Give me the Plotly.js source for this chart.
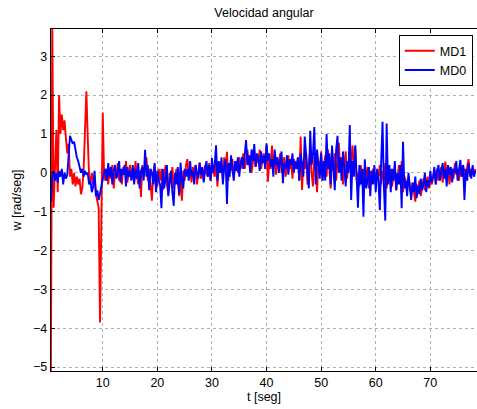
<!DOCTYPE html>
<html>
<head>
<meta charset="utf-8">
<script src="https://cdn.plot.ly/plotly-3.0.1.min.js"></script>
<style>html,body{margin:0;padding:0;background:#fff;}#chart{width:477px;height:409px;}</style>
</head>
<body>
<div id="chart"></div>
<script>
// Sampling of both series (seconds)
const tStart = 0.5;
const tStep = 0.25;

// MD1 (red) angular velocity, rad/seg
const md1 = [
  -5.1, 3.9, -0.9, 0.2, 1.1, -0.5, 2.0, 1.0, 1.5, 1.1, 1.35, 0.9, 0.5, 0.75, -0.1, 0.1, -0.3, 0.0, -0.35, -0.1,
  -0.3, -0.15, -0.55, -0.4, 0.1, 1.1, 2.1, 0.9, -0.1, -0.2, 0.0, -0.3, -0.1, -0.55, -0.7, -0.9, -3.85, -0.4, 1.55, -0.1,
  -0.2, 0.1, -0.3, 0.05, -0.15, 0.2, -0.4, 0.0, -0.1, 0.25, -0.2, 0.1, -0.3, 0.15, -0.05, 0.3, -0.25, 0.0, 0.2, -0.15,
  0.1, -0.2, 0.3, -0.1, -0.3, 0.05, -0.62, 0.2, -0.1, 0.15, 0.4, -0.2, 0.1, -0.3, -0.72, 0.0, 0.2, -0.15, -0.35, 0.1,
  -0.2, 0.1, -0.45, -0.1, 0.2, -0.3, -0.55, 0.0, -0.2, 0.15, -0.4, -0.1, 0.1, -0.25, -0.6, -0.05, -0.72, 0.05, -0.2, 0.2,
  0.35, -0.1, 0.1, -0.25, 0.15, -0.05, 0.2, -0.3, 0.05, 0.27, -0.15, 0.1, -0.2, 0.2, 0.0, -0.1, 0.25, -0.2, 0.1, 0.05,
  -0.1, 0.3, -0.35, 0.15, 0.0, 0.2, -0.15, 0.4, 0.1, 0.54, -0.2, 0.25, 0.05, 0.35, -0.1, 0.2, 0.3, 0.0, 0.4, 0.1,
  0.25, 0.5, 0.1, 0.35, 0.6, 0.2, 0.45, 0.0, 0.3, 0.55, 0.15, 0.4, 0.25, 0.6, 0.1, 0.35, 0.5, 0.2, 0.71, -0.23,
  0.3, 0.1, 0.7, 0.2, 0.45, -0.05, 0.35, 0.15, 0.5, 0.0, 0.3, 0.4, -0.1, 0.25, 0.45, 0.1, 0.3, -0.15, 0.35, 0.2,
  0.1, 0.4, -0.2, 0.93, -0.44, 0.3, 0.1, 0.5, -0.3, 0.25, 0.6, 0.0, -0.35, 0.4, 0.15, -0.5, 0.3, 0.05, 0.55, -0.2,
  0.2, 0.45, -0.1, 0.6, 0.1, -0.4, 0.35, 0.05, 0.5, -0.2, 0.3, 0.77, 0.0, 0.4, -0.3, 0.15, 0.55, -0.15, 0.2, 0.1,
  0.3, 0.7, 0.1, 0.65, -0.2, 0.0, -0.35, 0.2, -0.1, 0.1, -0.3, -0.05, 0.15, -0.4, 0.05, -0.2, 0.1, -0.1, -0.3, 0.0,
  -0.1, 0.2, -0.3, 0.05, -0.2, 0.25, -0.4, 0.0, -0.15, 0.1, -0.35, -0.05, 0.15, -0.45, -0.1, 0.2, -0.3, 0.3, -0.5, -0.1,
  -0.2, -0.5, -0.1, -0.4, -0.6, -0.25, -0.45, -0.74, -0.3, -0.5, -0.2, -0.6, -0.35, -0.15, -0.45, -0.3, -0.1, -0.4, -0.2, -0.3,
  -0.15, 0.05, -0.3, 0.1, -0.2, -0.05, 0.15, -0.25, 0.0, 0.29, -0.1, 0.2, -0.3, 0.05, 0.1, -0.15, 0.25, -0.05, 0.1, -0.2,
  0.1, -0.1, 0.2, 0.0, -0.15, 0.15, 0.35, -0.1, 0.1, 0.0, -0.05, 0.1
];

// MD0 (blue) angular velocity, rad/seg
const md0 = [
  -0.75, -0.1, 0.05, -0.2, 0.0, -0.25, 0.05, -0.1, 0.1, -0.3, 0.0, -0.15, -0.05, 0.55, 0.95, 0.85, 0.75, 0.8, 0.55, 0.4,
  0.3, 0.15, 0.0, 0.1, -0.1, 0.05, -0.05, 0.0, -0.3, -0.2, -0.5, -0.35, 0.05, -0.6, -0.45, -0.7, -0.5, -0.3, -0.2, 0.0,
  0.1, -0.2, 0.25, -0.1, 0.15, -0.3, 0.05, 0.2, -0.15, 0.0, 0.3, -0.25, 0.1, -0.05, 0.2, -0.35, 0.15, -0.1, 0.05, -0.2,
  0.2, -0.3, 0.1, -0.15, 0.25, -0.4, 0.05, 0.15, -0.2, 0.59, -0.1, 0.2, -0.45, 0.1, 0.0, -0.3, 0.25, -0.5, 0.05, -0.2,
  -0.3, -0.91, 0.1, -0.4, -0.15, 0.2, -0.6, -0.2, 0.05, -0.5, -0.85, 0.0, -0.3, 0.15, -0.55, 0.26, -0.2, -0.4, 0.1, -0.1,
  0.1, -0.2, 0.3, -0.1, 0.05, -0.3, 0.2, 0.0, -0.15, 0.25, -0.05, 0.15, -0.25, 0.1, 0.3, -0.1, 0.2, -0.2, 0.38, 0.0,
  0.2, 0.71, -0.2, 0.3, 0.0, 0.4, -0.3, 0.15, 0.35, -0.8, 0.25, -0.1, 0.45, 0.1, -0.2, 0.3, 0.05, 0.4, -0.1, 0.25,
  0.4, 0.1, 0.5, 0.84, 0.2, 0.45, 0.0, 0.6, 0.3, 0.74, 0.15, 0.5, 0.35, 0.05, 0.55, 0.25, 0.45, 0.1, 0.76, 0.3,
  0.5, 0.15, 0.35, -0.1, 0.6, 0.2, 0.4, 0.0, 0.3, 0.55, -0.27, 0.25, 0.1, 0.45, -0.05, 0.35, 0.2, 0.5, 0.0, 0.3,
  0.1, 0.4, -0.2, 0.5, 0.2, -0.1, 0.93, 0.3, 0.0, -0.4, 1.08, 0.2, 0.45, 1.18, -0.3, 0.6, 0.1, -0.15, 0.5, -0.2,
  0.3, -0.2, 1.0, 0.1, 0.5, -0.3, 0.7, 0.2, -0.45, 0.6, 0.95, 0.0, 0.4, -0.2, 0.55, 0.15, -0.35, 0.3, 0.0, 1.23,
  -0.7, 0.3, -0.1, 0.71, 0.0, -0.9, 0.2, -0.3, 0.1, -1.13, 0.35, -0.4, -0.2, 0.15, -0.6, 0.05, -0.3, 0.2, -0.5, 0.1,
  -0.2, -0.96, 0.3, 1.31, -0.4, -1.23, 1.27, -0.3, 0.2, -0.5, 0.1, -0.2, 0.3, -0.45, 0.0, -0.3, 0.2, -0.91, 0.8, -0.4,
  -0.2, -0.6, 0.0, -0.4, -0.7, -0.25, -0.5, -0.1, -0.65, -0.35, -0.55, -0.15, -0.45, -0.3, 0.0, -0.5, -0.2, -0.35, 0.05, -0.25,
  -0.1, 0.15, -0.3, 0.05, 0.2, -0.2, 0.0, 0.25, -0.15, 0.1, -0.35, 0.2, -0.05, 0.15, -0.25, 0.1, 0.0, 0.3, -0.2, 0.05,
  0.33, -0.1, 0.2, -0.7, 0.1, -0.2, 0.25, 0.0, -0.15, 0.2, -0.1, 0.05
];

const xTicks = [10, 20, 30, 40, 50, 60, 70];
const yTicks = [-5, -4, -3, -2, -1, 0, 1, 2, 3];

const font = 'Liberation Sans, Arial, Helvetica, sans-serif';

const traces = [
  {type: 'scatter', mode: 'lines', name: 'MD1', x0: tStart, dx: tStep, y: md1,
   line: {color: '#ff0000', width: 1.9}},
  {type: 'scatter', mode: 'lines', name: 'MD0', x0: tStart, dx: tStep, y: md0,
   line: {color: '#0000ff', width: 1.9}}
];

const axisCommon = {
  showline: true, linecolor: '#000', linewidth: 1.2,
  ticks: 'inside', ticklen: 4, tickcolor: '#000', tickwidth: 1,
  showgrid: true, gridcolor: '#b0b0b0', griddash: 'dot', gridwidth: 1,
  zeroline: false, tickfont: {family: font, size: 12.5, color: '#000'}
};

const layout = {
  width: 477, height: 409,
  margin: {l: 51, r: 0, t: 29, b: 38},
  paper_bgcolor: '#fff', plot_bgcolor: '#fff',
  font: {family: font, size: 12.5, color: '#000'},
  title: {text: 'Velocidad angular', x: 0.5, xref: 'paper', y: 1 - 13/409, yref: 'container',
          yanchor: 'middle', font: {family: font, size: 12.5, color: '#000'}},
  xaxis: Object.assign({}, axisCommon, {
    range: [0.52, 78.55], tickmode: 'array', tickvals: xTicks, mirror: 'ticks',
    title: {text: 't [seg]', standoff: 1, font: {family: font, size: 12.5, color: '#000'}}
  }),
  yaxis: Object.assign({}, axisCommon, {
    range: [-5.1, 3.7], tickmode: 'array', tickvals: yTicks, mirror: false,
    title: {text: 'w [rad/seg]', standoff: 8, font: {family: font, size: 12.5, color: '#000'}}
  }),
  showlegend: true,
  legend: {x: 0.99, xanchor: 'right', y: 0.982, yanchor: 'top',
           bgcolor: '#fff', bordercolor: '#000', borderwidth: 1,
           font: {family: font, size: 12.5, color: '#000'}, tracegroupgap: 0}
};

Plotly.newPlot('chart', traces, layout, {displayModeBar: false, staticPlot: true});
</script>
</body>
</html>
